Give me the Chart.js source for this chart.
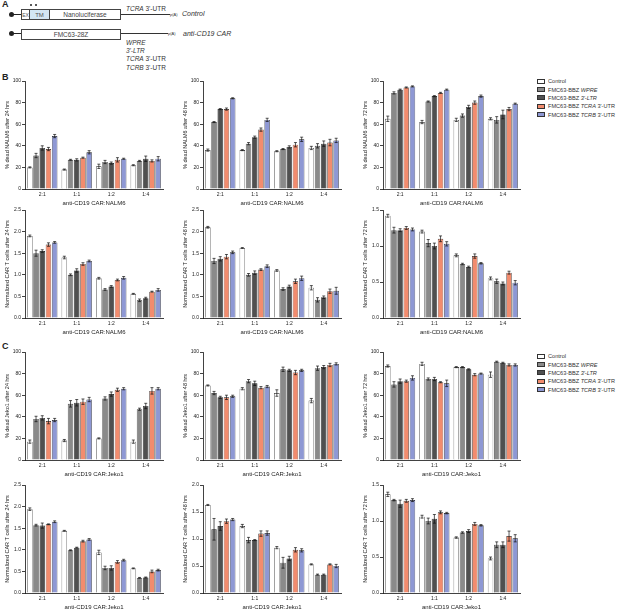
<!DOCTYPE html>
<html>
<head>
<meta charset="utf-8">
<script src="https://cdn.jsdelivr.net/npm/chart.js@4.4.0/dist/chart.umd.min.js"></script>
<style>
  body { margin: 0; background: #fff; font-family: "Liberation Sans", Arial, sans-serif; color: #222; }
  #fig { position: relative; width: 617px; height: 609px; overflow: hidden; }
  .abs { position: absolute; white-space: nowrap; }
  .lab { position: absolute; font-weight: bold; font-size: 9px; }
  .txt { position: absolute; font-size: 6.5px; white-space: nowrap; color: #333; }
  .leg { position: absolute; font-size: 5.6px; color: #333; }
  .leg div { display: flex; align-items: center; height: 8.4px; white-space: nowrap; }
  .sw { width: 8px; height: 5px; border: 1px solid #333; margin-right: 3px; box-sizing: border-box; flex: none; }
</style>
</head>
<body>
<div id="fig">
  <!-- A: constructs -->
  <div class="lab" style="left:2px;top:-1px">A</div>
  <div class="abs" style="left:9px;top:12px;width:5px;height:5px;border-radius:50%;background:#222"></div>
  <div class="abs" style="left:13px;top:14px;width:8px;height:1px;background:#222"></div>
  <div class="abs" style="left:21px;top:9px;width:9px;height:11px;border:0.8px solid #444;box-sizing:border-box;font-size:5px;line-height:10px;text-align:center;color:#555">EX</div>
  <div class="abs" style="left:29px;top:9px;width:21px;height:11px;border:0.8px solid #444;box-sizing:border-box;background:#d3e6f3;font-size:6px;line-height:10px;text-align:center;color:#555">TM</div>
  <div class="abs" style="left:49px;top:9px;width:72px;height:11px;border:0.8px solid #444;box-sizing:border-box;font-size:6.5px;line-height:10px;text-align:center;color:#444">Nanoluciferase</div>
  <div class="abs" style="left:30px;top:4px;width:2px;height:2px;border-radius:50%;background:#222"></div>
  <div class="abs" style="left:35px;top:4px;width:2px;height:2px;border-radius:50%;background:#222"></div>
  <div class="abs" style="left:121px;top:13.5px;width:49px;height:1.4px;background:#333"></div>
  <div class="txt" style="left:126px;top:5px"><i>TCRA</i> 3'-UTR</div>
  <div class="txt" style="left:170px;top:11.5px;font-size:4px">p(A)</div>
  <div class="txt" style="left:182px;top:10px;font-size:7px"><i>Control</i></div>

  <div class="abs" style="left:9px;top:31px;width:5px;height:5px;border-radius:50%;background:#222"></div>
  <div class="abs" style="left:13px;top:33px;width:8px;height:1px;background:#222"></div>
  <div class="abs" style="left:21px;top:29px;width:100px;height:11px;border:0.8px solid #444;box-sizing:border-box;font-size:6.5px;line-height:10px;text-align:center;color:#444">FMC63-28Z</div>
  <div class="abs" style="left:121px;top:33px;width:47px;height:1.4px;background:#333"></div>
  <div class="txt" style="left:168px;top:31px;font-size:4px">p(A)</div>
  <div class="txt" style="left:183px;top:29.5px;font-size:7px"><i>anti-CD19 CAR</i></div>
  <div class="txt" style="left:126px;top:39px"><i>WPRE</i></div>
  <div class="txt" style="left:126px;top:47px"><i>3'-LTR</i></div>
  <div class="txt" style="left:126px;top:55px"><i>TCRA</i> 3'-UTR</div>
  <div class="txt" style="left:126px;top:64px"><i>TCRB</i> 3'-UTR</div>

  <div class="lab" style="left:2px;top:72px">B</div>
  <div class="lab" style="left:2px;top:341px">C</div>
</div>

<script>
const ratios = ['2:1', '1:1', '1:2', '1:4'];
const seriesNames = ['Control', 'FMC63-BBZ WPRE', "FMC63-BBZ 3'-LTR", "FMC63-BBZ TCRA 3'-UTR", "FMC63-BBZ TCRB 3'-UTR"];
const seriesHtml = ['Control', 'FMC63-BBZ <i>WPRE</i>', "FMC63-BBZ <i>3'-LTR</i>", "FMC63-BBZ <i>TCRA</i> 3'-UTR", "FMC63-BBZ <i>TCRB</i> 3'-UTR"];
const seriesColors = ['#ffffff', '#8a8a8a', '#505050', '#f28c6e', '#8e98d4'];

// one row per series (Control, WPRE, 3'-LTR, TCRA, TCRB), one value per ratio
const nalmDead24 = [[20, 18, 21, 22], [31, 27, 25, 26], [38, 27, 24, 28], [37, 29, 27, 26], [49, 34, 28, 28]];
const nalmDead24Err = [[0.5, 0.5, 2, 0.5], [2, 0.5, 1.5, 0.5], [2, 1, 1, 2.5], [1.5, 0.5, 2, 1], [1.5, 1.5, 0.5, 2]];
const nalmDead48 = [[36, 36, 35, 38], [62, 42, 37, 40], [74, 48, 39, 42], [74, 55, 41, 43], [84, 64, 46, 45]];
const nalmDead48Err = [[1, 0.5, 0.5, 1.5], [0.5, 1, 0.5, 2], [0.5, 1, 1, 2.5], [1, 1.5, 2, 3], [0.5, 1.5, 2, 2]];
const nalmDead72 = [[65, 62, 64, 65], [89, 81, 68, 64], [92, 86, 76, 69], [94, 89, 80, 74], [95, 92, 86, 79]];
const nalmDead72Err = [[2.5, 1.5, 1.5, 1], [1, 0.5, 1.5, 3], [0.5, 0.5, 1.5, 4], [0.5, 0.5, 1.5, 1.5], [0.5, 0.5, 1, 0.5]];

const nalmCar24 = [[1.9, 1.4, 0.92, 0.56], [1.5, 1.0, 0.66, 0.41], [1.55, 1.1, 0.73, 0.46], [1.7, 1.25, 0.88, 0.61], [1.75, 1.32, 0.93, 0.65]];
const nalmCar24Err = [[0.02, 0.03, 0.02, 0.01], [0.07, 0.02, 0.02, 0.03], [0.03, 0.04, 0.02, 0.02], [0.04, 0.03, 0.02, 0.01], [0.02, 0.02, 0.03, 0.03]];
const nalmCar48 = [[2.1, 1.62, 1.1, 0.7], [1.32, 1.0, 0.67, 0.42], [1.37, 1.05, 0.73, 0.48], [1.42, 1.12, 0.85, 0.62], [1.52, 1.2, 0.92, 0.63]];
const nalmCar48Err = [[0.02, 0.01, 0.02, 0.05], [0.06, 0.03, 0.03, 0.05], [0.05, 0.04, 0.03, 0.03], [0.05, 0.02, 0.05, 0.05], [0.03, 0.03, 0.05, 0.08]];
const nalmCar72 = [[1.42, 1.2, 0.87, 0.55], [1.22, 1.04, 0.75, 0.51], [1.22, 1.0, 0.71, 0.48], [1.25, 1.1, 0.86, 0.63], [1.23, 1.03, 0.76, 0.49]];
const nalmCar72Err = [[0.02, 0.02, 0.02, 0.02], [0.04, 0.05, 0.01, 0.03], [0.02, 0.04, 0.01, 0.02], [0.02, 0.04, 0.03, 0.02], [0.02, 0.03, 0.01, 0.03]];

const jekoDead24 = [[17, 18, 20, 17], [38, 52, 57, 47], [39, 53, 61, 50], [36, 54, 65, 64], [37, 56, 66, 66]];
const jekoDead24Err = [[1.5, 1, 0.5, 1.5], [2.5, 3, 1.5, 1], [2, 3, 2, 2.5], [2.5, 2.5, 1.5, 3], [1.5, 2, 1, 1]];
const jekoDead48 = [[69, 66, 62, 55], [62, 73, 84, 85], [58, 71, 83, 86], [58, 67, 81, 88], [59, 68, 83, 89]];
const jekoDead48Err = [[0.5, 1, 3, 2], [1.5, 1.5, 2, 2], [1, 2, 1, 1.5], [2, 1, 2, 1.5], [1, 1, 1, 1]];
const jekoDead72 = [[87, 89, 86, 79], [70, 75, 86, 91], [73, 75, 84, 90], [73, 72, 79, 88], [76, 71, 80, 88]];
const jekoDead72Err = [[1, 1.5, 0.5, 2.5], [2.5, 1, 0.5, 0.5], [2, 1.5, 0.5, 0.5], [1, 0.5, 1, 1], [2, 3, 0.5, 1]];

const jekoCar24 = [[1.94, 1.44, 0.94, 0.57], [1.57, 0.99, 0.58, 0.35], [1.56, 1.05, 0.58, 0.36], [1.59, 1.2, 0.72, 0.5], [1.65, 1.24, 0.76, 0.53]];
const jekoCar24Err = [[0.03, 0.01, 0.05, 0.01], [0.02, 0.01, 0.04, 0.01], [0.06, 0.01, 0.05, 0.01], [0.01, 0.02, 0.03, 0.03], [0.02, 0.02, 0.02, 0.02]];
const jekoCar48 = [[1.63, 1.24, 0.84, 0.53], [1.18, 0.98, 0.56, 0.34], [1.24, 0.98, 0.64, 0.34], [1.33, 1.1, 0.8, 0.53], [1.36, 1.11, 0.79, 0.5]];
const jekoCar48Err = [[0.01, 0.03, 0.02, 0.01], [0.2, 0.05, 0.1, 0.01], [0.08, 0.01, 0.04, 0.01], [0.04, 0.05, 0.04, 0.01], [0.02, 0.04, 0.03, 0.03]];
const jekoCar72 = [[1.37, 1.06, 0.77, 0.48], [1.29, 1.0, 0.84, 0.67], [1.24, 1.03, 0.86, 0.67], [1.28, 1.12, 0.96, 0.79], [1.29, 1.11, 0.94, 0.76]];
const jekoCar72Err = [[0.03, 0.02, 0.01, 0.02], [0.01, 0.04, 0.01, 0.04], [0.05, 0.06, 0.02, 0.04], [0.02, 0.02, 0.02, 0.07], [0.02, 0.01, 0.01, 0.05]];

const fig = document.getElementById('fig');

// error bars drawn from each dataset's err array
const errorBars = {
  id: 'errorBars',
  afterDatasetsDraw(chart) {
    const ctx = chart.ctx, y = chart.scales.y;
    ctx.save();
    ctx.strokeStyle = '#111';
    ctx.lineWidth = 0.7;
    chart.data.datasets.forEach((ds, i) => {
      chart.getDatasetMeta(i).data.forEach((bar, j) => {
        const v = ds.data[j], e = ds.err[j];
        const top = y.getPixelForValue(v + e), bot = y.getPixelForValue(v - e);
        ctx.beginPath();
        ctx.moveTo(bar.x, top); ctx.lineTo(bar.x, bot);
        ctx.moveTo(bar.x - 1.5, top); ctx.lineTo(bar.x + 1.5, top);
        ctx.moveTo(bar.x - 1.5, bot); ctx.lineTo(bar.x + 1.5, bot);
        ctx.stroke();
      });
    });
    ctx.restore();
  }
};

function makeChart(box, values, errs, ymax, yTitle, xTitle) {
  const [left, top, w, h] = box;
  const cw = 21 + w + 3, ch = 5 + h + 18;
  const cv = document.createElement('canvas');
  cv.width = cw; cv.height = ch;
  cv.style.cssText = `position:absolute;left:${left - 21}px;top:${top - 5}px;width:${cw}px;height:${ch}px`;
  fig.appendChild(cv);

  new Chart(cv, {
    type: 'bar',
    data: {
      labels: ratios,
      datasets: values.map((row, i) => ({
        label: seriesNames[i],
        data: row,
        err: errs[i],
        backgroundColor: seriesColors[i],
        borderColor: '#111',
        borderWidth: 0.6,
        categoryPercentage: 0.9,
        barPercentage: 0.88
      }))
    },
    options: {
      responsive: false,
      animation: false,
      devicePixelRatio: 1,
      layout: { padding: { top: 5, right: 3, left: 0, bottom: 0 } },
      plugins: { legend: { display: false }, tooltip: { enabled: false } },
      scales: {
        x: {
          grid: { display: false, drawTicks: false },
          border: { color: '#111', width: 0.8 },
          ticks: { font: { size: 5 }, color: '#222', padding: 3, maxRotation: 0 },
          title: { display: true, text: xTitle, font: { size: 6 }, color: '#222', padding: 0 },
          afterFit(s) { s.height = 18; }
        },
        y: {
          min: 0, max: ymax,
          ticks: {
            stepSize: ymax === 100 ? 20 : 0.5,
            font: { size: 5 }, color: '#222', padding: 1,
            callback: v => ymax === 100 ? v : v.toFixed(1)
          },
          grid: { drawOnChartArea: false, drawTicks: true, tickLength: 3, color: '#111', lineWidth: 0.8 },
          border: { color: '#111', width: 0.8 },
          title: { display: true, text: yTitle, font: { size: 5.5 }, color: '#222', padding: 0 },
          afterFit(s) { s.width = 21; }
        }
      }
    },
    plugins: [errorBars]
  });
}

const cols = [[25, 138], [203, 138], [383, 137]];
const rows = [[81, 108], [210, 108], [352, 108], [485, 108]];
const box = (r, c) => [cols[c][0], rows[r][0], cols[c][1], rows[r][1]];

makeChart(box(0, 0), nalmDead24, nalmDead24Err, 100, '% dead NALM6 after 24 hrs', 'anti-CD19 CAR:NALM6');
makeChart(box(0, 1), nalmDead48, nalmDead48Err, 100, '% dead NALM6 after 48 hrs', 'anti-CD19 CAR:NALM6');
makeChart(box(0, 2), nalmDead72, nalmDead72Err, 100, '% dead NALM6 after 72 hrs', 'anti-CD19 CAR:NALM6');
makeChart(box(1, 0), nalmCar24, nalmCar24Err, 2.5, 'Normalized CAR T cells after 24 hrs', 'anti-CD19 CAR:NALM6');
makeChart(box(1, 1), nalmCar48, nalmCar48Err, 2.5, 'Normalized CAR T cells after 48 hrs', 'anti-CD19 CAR:NALM6');
makeChart(box(1, 2), nalmCar72, nalmCar72Err, 1.5, 'Normalized CAR T cells after 72 hrs', 'anti-CD19 CAR:NALM6');
makeChart(box(2, 0), jekoDead24, jekoDead24Err, 100, '% dead Jeko1 after 24 hrs', 'anti-CD19 CAR:Jeko1');
makeChart(box(2, 1), jekoDead48, jekoDead48Err, 100, '% dead Jeko1 after 48 hrs', 'anti-CD19 CAR:Jeko1');
makeChart(box(2, 2), jekoDead72, jekoDead72Err, 100, '% dead Jeko1 after 72 hrs', 'anti-CD19 CAR:Jeko1');
makeChart(box(3, 0), jekoCar24, jekoCar24Err, 2.5, 'Normalized CAR T cells after 24 hrs', 'anti-CD19 CAR:Jeko1');
makeChart(box(3, 1), jekoCar48, jekoCar48Err, 2.0, 'Normalized CAR T cells after 48 hrs', 'anti-CD19 CAR:Jeko1');
makeChart(box(3, 2), jekoCar72, jekoCar72Err, 1.5, 'Normalized CAR T cells after 72 hrs', 'anti-CD19 CAR:Jeko1');

// legends for B and C
function addLegend(left, top) {
  const el = document.createElement('div');
  el.className = 'leg';
  el.style.left = left + 'px';
  el.style.top = top + 'px';
  el.innerHTML = seriesHtml.map((t, i) =>
    `<div><span class="sw" style="background:${seriesColors[i]}"></span><span>${t}</span></div>`).join('');
  fig.appendChild(el);
}
addLegend(537, 77);
addLegend(537, 352);
</script>
</body>
</html>
